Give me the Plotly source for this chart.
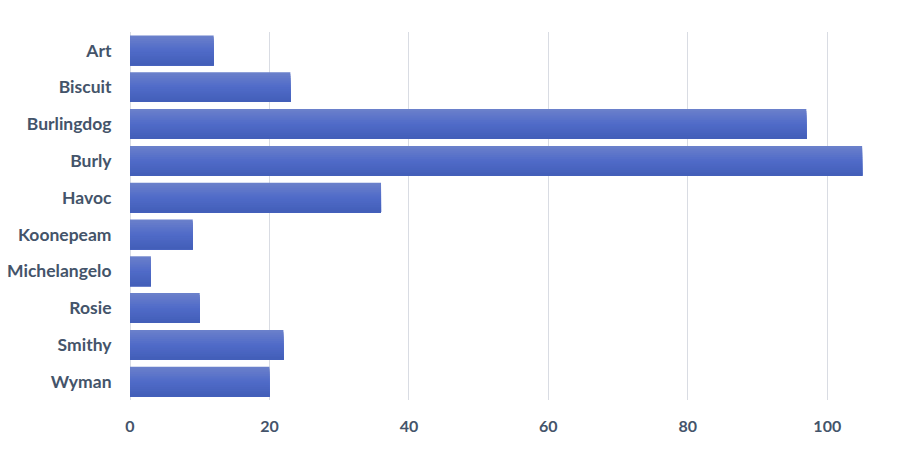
"""
Horizontal bar chart with a vertical gradient fill on each bar.
"""
import plotly.graph_objects as go

# Data
names = ["Art", "Biscuit", "Burlingdog", "Burly", "Havoc",
         "Koonepeam", "Michelangelo", "Rosie", "Smithy", "Wyman"]
counts = [12, 23, 97, 105, 36, 9, 3, 10, 22, 20]
x_ticks = [0, 20, 40, 60, 80, 100]

# Gradient stops (top -> middle -> bottom of each bar)
top_rgb = (108, 129, 203)
mid_rgb = (80, 107, 200)
bot_rgb = (66, 94, 184)


def blend(a, b, t):
    return tuple(round(a[k] + (b[k] - a[k]) * t) for k in range(3))


def strip_color(t):
    if t < 0.5:
        c = blend(top_rgb, mid_rgb, t / 0.5)
    else:
        c = blend(mid_rgb, bot_rgb, (t - 0.5) / 0.5)
    return "rgb(%d,%d,%d)" % c


bar_width = 0.81
n_strips = 16
strip = bar_width / n_strips

fig = go.Figure()

# each layer runs from its own top edge to the bar bottom and is drawn
# over the previous one, so the stack reads as a top-to-bottom gradient
for i in range(n_strips):
    t = (i + 0.5) / n_strips
    fig.add_trace(go.Bar(
        x=counts,
        y=names,
        orientation="h",
        width=bar_width - i * strip,
        offset=-bar_width / 2 + i * strip,
        marker=dict(color=strip_color(t), line=dict(width=0)),
        showlegend=False,
        hoverinfo="x+y" if i == 0 else "skip",
    ))

font_color = "#44546A"

fig.update_layout(
    width=902,
    height=450,
    barmode="overlay",
    plot_bgcolor="white",
    paper_bgcolor="white",
    margin=dict(l=130, r=5, t=32, b=50, autoexpand=False),
    font=dict(family="Lato, Noto Sans, sans-serif", size=16, color=font_color),
    showlegend=False,
)

fig.update_xaxes(
    range=[0, 110],
    tickvals=x_ticks,
    showgrid=True,
    gridcolor="#D9DCE3",
    gridwidth=1,
    zeroline=True,
    zerolinecolor="#D9DCE3",
    zerolinewidth=1,
    showline=False,
    ticks="outside",
    ticklen=12,
    tickcolor="rgba(0,0,0,0)",
    tickfont=dict(size=16, color=font_color, weight="bold"),
    automargin=False,
    fixedrange=True,
)

fig.update_yaxes(
    categoryorder="array",
    categoryarray=names,
    autorange="reversed",
    showgrid=False,
    showline=False,
    ticks="outside",
    ticklen=14,
    tickcolor="rgba(0,0,0,0)",
    tickfont=dict(size=17.5, color=font_color, weight="bold"),
    automargin=False,
    fixedrange=True,
)

# drop the browser's default body margin so the chart sits at the page corner
fig.write_html(
    "out.html",
    config={"displayModeBar": False},
    post_script="document.body.style.margin = '0';",
)
